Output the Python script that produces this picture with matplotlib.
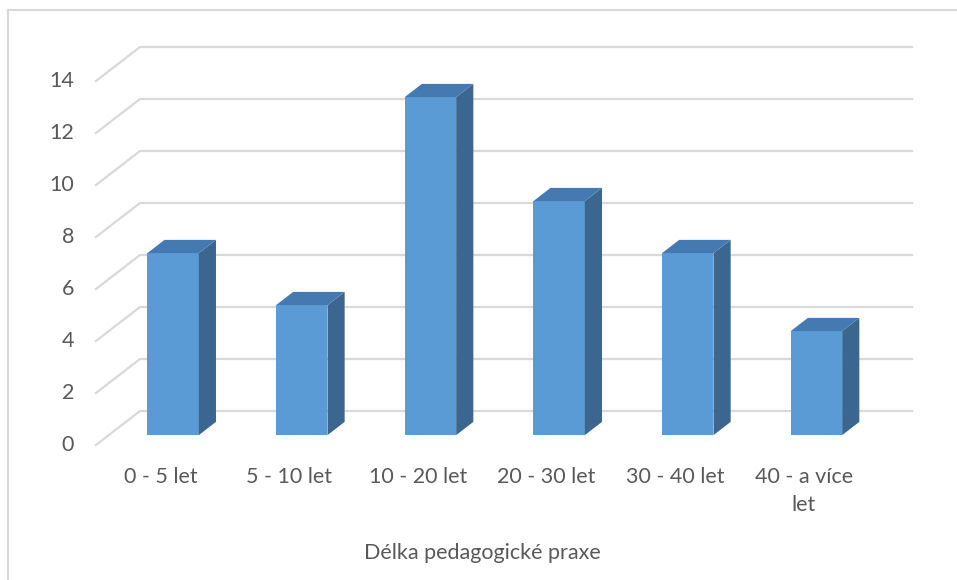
import matplotlib.pyplot as plt
from matplotlib.patches import Polygon

categories = ['0 - 5 let', '5 - 10 let', '10 - 20 let', '20 - 30 let', '30 - 40 let', '40 - a více\nlet']
values = [7, 5, 13, 9, 7, 4]
yticks = [0, 2, 4, 6, 8, 10, 12, 14]
xtitle = 'Délka pedagogické praxe'

plt.rcParams['font.family'] = ['Lato', 'DejaVu Sans']
txt = '#595959'
grid = '#d9d9d9'
front = '#5b9bd5'
side = '#3a6690'
top = '#4479b2'
fs = 15.5

fig = plt.figure(figsize=(9.57, 5.8), dpi=100)
ax = fig.add_axes([0, 0, 1, 1])
# 1 category = 128.67 px, 1 value unit = 26 px
ux, uy = 128.67, 26.0
ax.set_xlim(-0.5 - 96 / ux, 5.5 + (957 - 868) / ux)
ax.set_ylim(-(580 - 445) / uy, 445 / uy)
ax.axis('off')

# oblique depth offset (front -> back)
dx, dy = 44 / ux, 34 / uy
x0, x1 = -0.5, 5.5

for v in yticks:
    ax.plot([x0, x0 + dx, x1 + dx], [v, v + dy, v + dy], color=grid, lw=1.6, zorder=1)
    ax.text(x0 - 22 / ux, v, str(v), ha='right', va='center', fontsize=fs, color=txt)

d0, d1 = 0.29, 0.68
bw = 0.4
for i, v in enumerate(values):
    bx = i - bw / 2 + d0 * dx
    by = d0 * dy
    ddx, ddy = (d1 - d0) * dx, (d1 - d0) * dy
    ax.add_patch(Polygon([(bx, by), (bx + bw, by), (bx + bw, by + v), (bx, by + v)],
                         closed=True, fc=front, ec='none', zorder=3))
    ax.add_patch(Polygon([(bx + bw, by), (bx + bw + ddx, by + ddy), (bx + bw + ddx, by + v + ddy), (bx + bw, by + v)],
                         closed=True, fc=side, ec='none', zorder=3))
    ax.add_patch(Polygon([(bx, by + v), (bx + bw, by + v), (bx + bw + ddx, by + v + ddy), (bx + ddx, by + v + ddy)],
                         closed=True, fc=top, ec='none', zorder=3))

for i, c in enumerate(categories):
    ax.text(i, -22 / uy, c, ha='center', va='top', fontsize=fs, color=txt, linespacing=1.5)

ax.text(2.5, -(553 - 445) / uy, xtitle, ha='center', va='center', fontsize=fs, color=txt)

# chart border (left and top visible)
fig.add_artist(plt.Line2D([8 / 957, 8 / 957], [0, 1 - 10 / 580], color=grid, lw=1.5))
fig.add_artist(plt.Line2D([8 / 957, 1], [1 - 10 / 580, 1 - 10 / 580], color=grid, lw=1.5))

fig.savefig('out.png', dpi=100, facecolor='white')
